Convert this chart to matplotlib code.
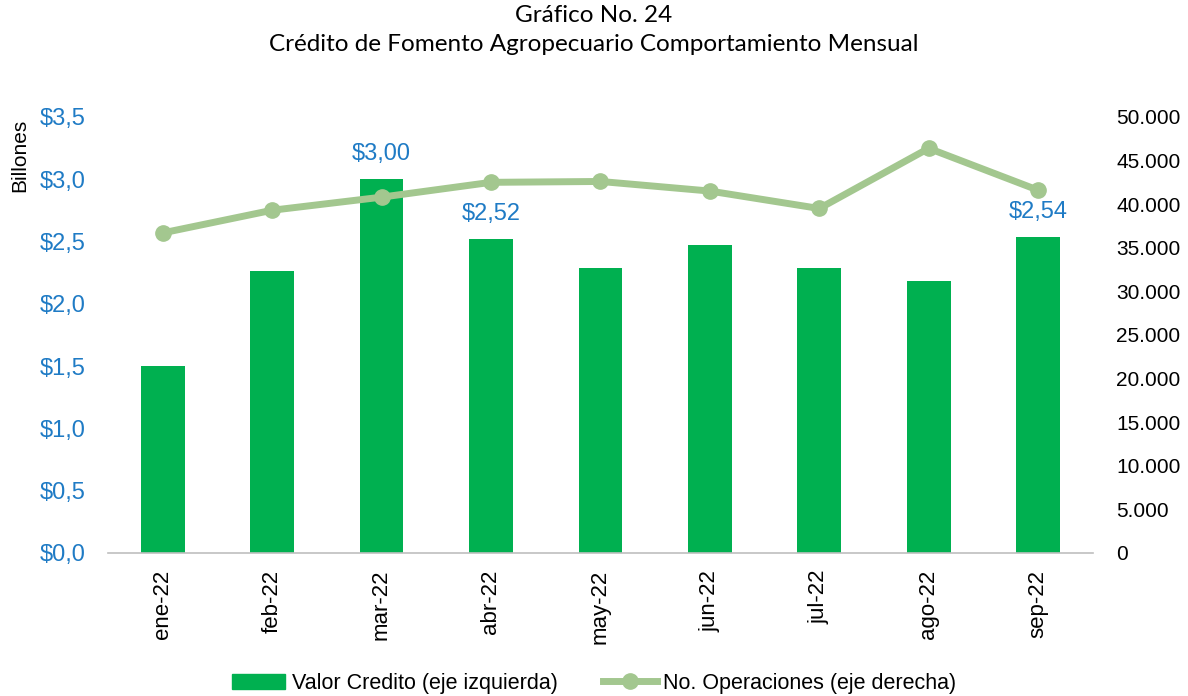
import matplotlib.pyplot as plt
from matplotlib.ticker import FuncFormatter, MultipleLocator

meses = ["ene-22", "feb-22", "mar-22", "abr-22", "may-22", "jun-22", "jul-22", "ago-22", "sep-22"]
valor_credito = [1.50, 2.26, 3.00, 2.52, 2.29, 2.47, 2.29, 2.18, 2.54]
operaciones = [36700, 39300, 40800, 42500, 42600, 41500, 39500, 46400, 41600]
etiquetas = {2: "$3,00", 3: "$2,52", 8: "$2,54"}

BAR_COLOR = "#00B050"
LINE_COLOR = "#A3C78F"
BLUE = "#1F7BC5"
TICK_FONT = ["Liberation Sans", "DejaVu Sans"]

fig = plt.figure(figsize=(11.88, 6.96), dpi=100)
ax = fig.add_axes([0.0909, 0.2055, 0.829, 0.6265])
ax2 = ax.twinx()

x = list(range(len(meses)))
ax.bar(x, valor_credito, width=0.4, color=BAR_COLOR, zorder=2)
ax2.plot(x, operaciones, color=LINE_COLOR, lw=5, marker="o", ms=11, zorder=3)

for i, txt in etiquetas.items():
    ax.annotate(txt, (i, valor_credito[i]), xytext=(0, 10), textcoords="offset points",
                ha="center", va="bottom", color=BLUE, fontsize=17, family=TICK_FONT)

ax.set_xlim(-0.5, len(meses) - 0.5)
ax.set_ylim(0, 3.5)
ax.yaxis.set_major_locator(MultipleLocator(0.5))
ax.yaxis.set_major_formatter(FuncFormatter(lambda v, p: "$" + f"{v:.1f}".replace(".", ",")))
ax2.set_ylim(0, 50000)
ax2.yaxis.set_major_locator(MultipleLocator(5000))
ax2.yaxis.set_major_formatter(FuncFormatter(lambda v, p: f"{int(v):,}".replace(",", ".")))

ax.set_xticks(x)
ax.set_xticklabels(meses, rotation=90, fontsize=16, family=TICK_FONT)
for lbl in ax.get_yticklabels():
    lbl.set_family(TICK_FONT)
for lbl in ax2.get_yticklabels():
    lbl.set_family(TICK_FONT)
ax.tick_params(axis="y", length=0, labelsize=17, labelcolor=BLUE, pad=16)
ax.tick_params(axis="x", length=0, pad=12)
ax2.tick_params(axis="y", length=0, labelsize=15, pad=17)

for a in (ax, ax2):
    for s in ("top", "left", "right", "bottom"):
        a.spines[s].set_visible(False)
ax.spines["bottom"].set_visible(True)
ax.spines["bottom"].set_color("#BFBFBF")
ax.spines["bottom"].set_linewidth(1.2)

fig.text(0.017, 0.777, "Billones", rotation=90, ha="center", va="center",
         fontsize=15, family=TICK_FONT)
fig.suptitle("Gráfico No. 24\nCrédito de Fomento Agropecuario Comportamiento Mensual",
             y=0.993, fontsize=17.5, family=["Lato", "DejaVu Sans"], linespacing=1.45)

h1 = plt.Rectangle((0, 0), 1, 1, color=BAR_COLOR)
h2, = ax2.plot([], [], color=LINE_COLOR, lw=5, marker="o", ms=11)
fig.legend([h1, h2], ["Valor Credito (eje izquierda)", "No. Operaciones (eje derecha)"],
           loc="lower center", bbox_to_anchor=(0.5, -0.025), ncol=2, frameon=False,
           prop={"family": TICK_FONT, "size": 15.5}, handlelength=2.5, handletextpad=0.3,
           columnspacing=2.1)

fig.savefig("out.png", dpi=100)
